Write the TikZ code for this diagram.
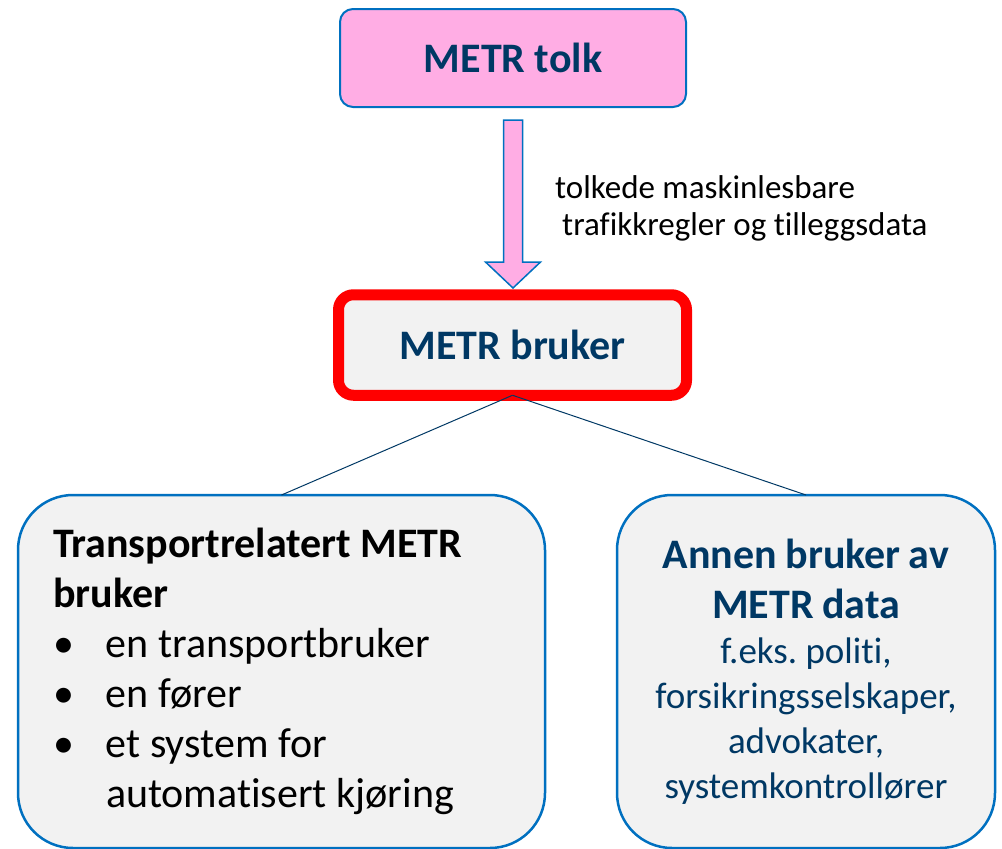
\documentclass[tikz,border=0pt]{standalone}
\usepackage{fontspec}
\setmainfont{Carlito}[Ligatures=NoCommon]
\definecolor{metrblue}{RGB}{0,112,192}
\definecolor{metrnavy}{RGB}{0,56,100}
\definecolor{metrpink}{RGB}{255,173,228}
\definecolor{metrgray}{RGB}{242,242,242}
\newcommand{\punkt}{\makebox[53pt][l]{\textbullet}}

\begin{document}
\begin{tikzpicture}[x=1pt,y=-1pt,
  toppboks/.style={draw=metrblue,line width=2pt,fill=metrpink,rounded corners=13pt,
    minimum width=346pt,minimum height=98pt,outer sep=0pt,text=metrnavy,
    font=\fontsize{42}{50}\selectfont\bfseries},
  brukerboks/.style={draw=red,line width=11pt,fill=metrgray,rounded corners=15pt,
    minimum width=348pt,minimum height=100.5pt,outer sep=0pt,text=metrnavy,
    font=\fontsize{42}{50}\selectfont\bfseries},
  underboks/.style={draw=metrblue,line width=2.5pt,fill=metrgray,rounded corners=55pt,
    minimum height=353pt,outer sep=0pt,inner sep=0pt,
    execute at begin node=\frenchspacing\spaceskip\fontdimen2\font\relax},
  pil/.style={draw=metrblue,line width=1.5pt,fill=metrpink},
  strek/.style={draw=metrnavy,line width=1pt}]
\useasboundingbox (0,0) rectangle (1002,849);
%the two top boxes
\node[toppboks] (tolk) at (513,58) {METR tolk};
\node[brukerboks] (bruker) at (512.5,345) {METR bruker};
%block arrow from tolk down to bruker
\path (tolk.south) ++(0,13) coordinate (p0);
\draw[pil] (p0) ++(-9.5,0) -- ++(0,142) -- ++(-18,0) -- ++(27.5,26)
  -- ++(27.5,-26) -- ++(-18,0) -- ++(0,-142) -- cycle;
\node[anchor=west,inner sep=0pt,align=left,font=\fontsize{33}{37}\selectfont,
  execute at begin node=\spaceskip\fontdimen2\font\relax] (etikett)
  at (555,208) {tolkede maskinlesbare\\\hspace*{7pt}trafikkregler og tilleggsdata};
%the two kinds of users
\node[underboks,minimum width=527pt,text width=457pt,align=left,
  font=\fontsize{42}{50}\selectfont] (transport) at (281.5,671.5)
  {{\bfseries Transportrelatert METR\\ bruker\par}
   \punkt en transportbruker\\
   \punkt en fører\\
   \punkt et system for\\
   \hspace*{53pt}automatisert kjøring\par};
\node[underboks,minimum width=378pt,text width=350pt,align=center,text=metrnavy,
  font=\fontsize{37}{45}\selectfont] (annen) at (806,671.5)
  {{\fontsize{42}{50}\selectfont\bfseries Annen bruker av\\ METR data\par}
   f.eks. politi,\\ forsikringsselskaper,\\ advokater,\\ systemkontrollører\par};
%connectors
\draw[strek] (bruker.south) -- (transport.north);
\draw[strek] (bruker.south) -- (annen.north);
\end{tikzpicture}
\end{document}
